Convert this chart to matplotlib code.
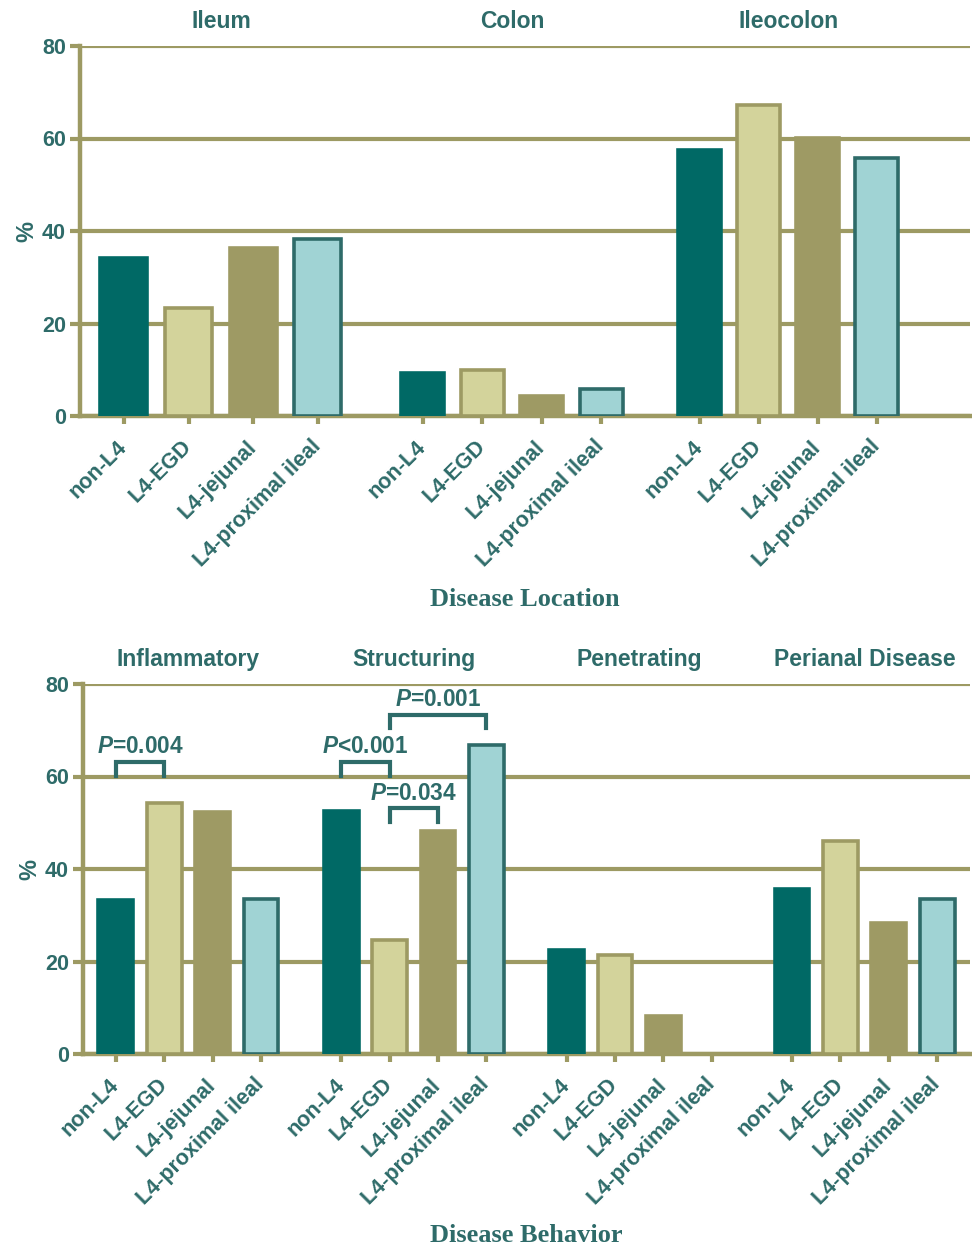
import matplotlib
matplotlib.use("Agg")
import matplotlib.pyplot as plt
import numpy as np

plt.rcParams['font.family'] = ['Liberation Sans', 'DejaVu Sans']
plt.rcParams['font.weight'] = 'bold'
plt.rcParams['mathtext.fontset'] = 'custom'
plt.rcParams['mathtext.it'] = 'Liberation Sans:italic:bold'
plt.rcParams['mathtext.rm'] = 'Liberation Sans:bold'

# DATA
subgroups = ["non-L4", "L4-EGD", "L4-jejunal", "L4-proximal ileal"]

location_groups = ["Ileum", "Colon", "Ileocolon"]
location_vals = [
    [34.2, 23.3, 36.3, 38.3],   # Ileum
    [9.3, 9.9, 4.3, 5.8],       # Colon
    [57.5, 67.3, 60.1, 55.8],   # Ileocolon
]

behavior_groups = ["Inflammatory", "Structuring", "Penetrating", "Perianal Disease"]
behavior_vals = [
    [33.3, 54.3, 52.3, 33.5],   # Inflammatory
    [52.5, 24.6, 48.2, 66.8],   # Structuring
    [22.5, 21.4, 8.2, 0.0],     # Penetrating
    [35.7, 46.0, 28.3, 33.5],   # Perianal
]

# significance: (group, bar a, bar b, label)
sig_pairs = [
    (0, 0, 1, "$P$=0.004"),
    (1, 0, 1, "$P$<0.001"),
    (1, 1, 2, "$P$=0.034"),
    (1, 1, 3, "$P$=0.001"),
]

# LAYOUT (group start, bar step, bar width) and bracket heights
top_layout = dict(starts=[0, 4.90, 9.44], steps=[1.06, 0.975, 0.967],
                  widths=[0.77, 0.705, 0.705], xlim=(-0.72, 13.87))
bot_layout = dict(starts=[0, 4.66, 9.32, 13.98], steps=[1, 1, 1, 1],
                  widths=[0.72] * 4, xlim=(-0.68, 17.66))
sig_heights = [63.2, 63.2, 53.1, 73.4]

# STYLE
TEAL_TXT = "#2e6b69"
OLIVE = "#9d9a63"
fills = ["#006965", "#d3d39b", "#9e9a64", "#a0d3d4"]
edges = ["#006965", "#9d9a63", "#9e9a64", "#2e6b69"]

fig = plt.figure(figsize=(9.72, 12.47), dpi=100)


def panel(rect, groups, vals, lay, xlabel):
    ax = fig.add_axes(rect)
    ticks, labels, pos = [], [], []
    for g, name in enumerate(groups):
        xs = lay["starts"][g] + lay["steps"][g] * np.arange(4)
        lws = [2.6 if v > 0 else 0 for v in vals[g]]
        ax.bar(xs, vals[g], width=lay["widths"][g], color=fills,
               edgecolor=edges, linewidth=lws, zorder=3)
        ticks += list(xs)
        labels += subgroups
        pos.append(xs)
        ax.text(xs.mean(), 85.2, name, ha="center", va="center",
                color=TEAL_TXT, fontsize=16.5, fontweight="bold")
    ax.set_xlim(*lay["xlim"])
    ax.set_ylim(0, 80)
    ax.set_yticks([0, 20, 40, 60, 80])
    ax.yaxis.grid(True, color=OLIVE, linewidth=3, zorder=0)
    ax.set_axisbelow(True)
    for s in ["top", "right"]:
        ax.spines[s].set_visible(False)
    for s in ["left", "bottom"]:
        ax.spines[s].set_color(OLIVE)
        ax.spines[s].set_linewidth(3.2)
    ax.set_xticks(ticks)
    ax.set_xticklabels(labels, rotation=45, ha="right", va="center",
                       rotation_mode="anchor")
    ax.tick_params(axis="x", length=6, width=3, color=OLIVE, pad=14,
                   labelsize=15.5, labelcolor=TEAL_TXT)
    ax.tick_params(axis="y", length=7, width=3, color=OLIVE, pad=3,
                   labelsize=15.5, labelcolor=TEAL_TXT)
    for lab in ax.get_xticklabels() + ax.get_yticklabels():
        lab.set_fontweight("bold")
    ax.set_ylabel("%", color=TEAL_TXT, fontsize=17, fontweight="bold",
                  labelpad=3)
    ax.text(0.5, xlabel[1], xlabel[0], transform=ax.transAxes,
            ha="center", va="center", color=TEAL_TXT, fontsize=19,
            fontweight="bold", family=["Liberation Serif", "DejaVu Serif"])
    return ax, pos


ax1, pos1 = panel([80 / 972, 1 - 416 / 1247, 890 / 972, 370 / 1247],
                  location_groups, location_vals, top_layout,
                  ("Disease Location", -0.495))
ax2, pos2 = panel([83 / 972, 1 - 1054 / 1247, 887 / 972, 370 / 1247],
                  behavior_groups, behavior_vals, bot_layout,
                  ("Disease Behavior", -0.49))

for (g, a, b, lab), h in zip(sig_pairs, sig_heights):
    xa, xb = pos2[g][a], pos2[g][b]
    ax2.plot([xa, xa, xb, xb], [h - 3.0, h, h, h - 3.0], color=TEAL_TXT,
             linewidth=3, solid_joinstyle="miter", zorder=4, clip_on=False)
    ax2.text((xa + xb) / 2, h + 0.7, lab, ha="center", va="bottom",
             color=TEAL_TXT, fontsize=16.3, fontweight="bold", zorder=5)

fig.savefig("out.png", dpi=100)
